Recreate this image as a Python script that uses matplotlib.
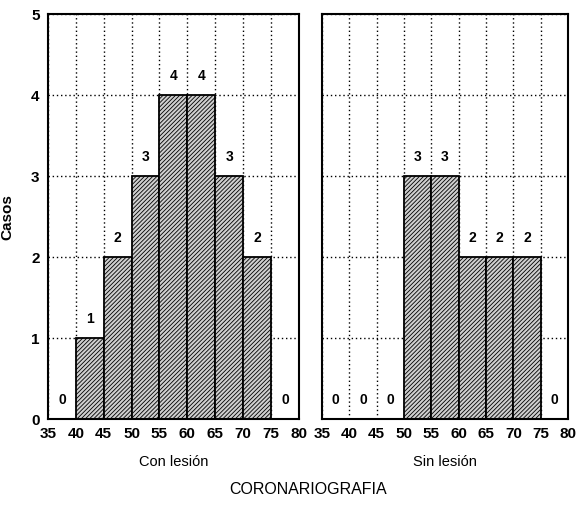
import numpy as np
import matplotlib.pyplot as plt

plt.rcParams['font.family'] = ['Liberation Sans Narrow', 'Liberation Sans', 'DejaVu Sans']
plt.rcParams['hatch.linewidth'] = 0.6

# Datos
bordes = [35, 40, 45, 50, 55, 60, 65, 70, 75]
con_lesion = [0, 1, 2, 3, 4, 4, 3, 2, 0]
sin_lesion = [0, 0, 0, 3, 3, 2, 2, 2, 0]
ticks_x = [35, 40, 45, 50, 55, 60, 65, 70, 75, 80]
ticks_y = [0, 1, 2, 3, 4, 5]

fig = plt.figure(figsize=(5.78, 5.08), dpi=100)
ax1 = fig.add_axes([0.083, 0.175, 0.434, 0.797])
ax2 = fig.add_axes([0.557, 0.175, 0.426, 0.797])

def panel(ax, valores, titulo, con_y):
    ax.set_axisbelow(True)
    ax.grid(True, linestyle=(0, (1, 2)), color='black', linewidth=1.0)
    ax.bar(bordes, valores, width=5, align='edge', color='#cfcfcf',
           edgecolor='black', hatch='////////', linewidth=1.3)
    for b, v in zip(bordes, valores):
        ax.text(b + 2.5, v + 0.15, str(v), ha='center', va='bottom',
                fontsize=10, fontweight='bold')
    ax.set_xlim(35, 80)
    ax.set_ylim(0, 5)
    ax.set_xticks(ticks_x)
    ax.set_yticks(ticks_y)
    ax.tick_params(length=0, labelsize=11, pad=6)
    for lbl in ax.get_xticklabels() + ax.get_yticklabels():
        lbl.set_fontweight('bold')
    if not con_y:
        ax.set_yticklabels([])
    for s in ax.spines.values():
        s.set_linewidth(1.5)
    ax.set_xlabel(titulo, fontsize=10.5, labelpad=10)

panel(ax1, con_lesion, 'Con lesión', True)
panel(ax2, sin_lesion, 'Sin lesión', False)
ax1.set_ylabel('Casos', fontsize=11, fontweight='bold', labelpad=12)

fig.text(0.533, 0.028, 'CORONARIOGRAFIA', ha='center', fontsize=11.5)

fig.savefig('out.png', dpi=100)
